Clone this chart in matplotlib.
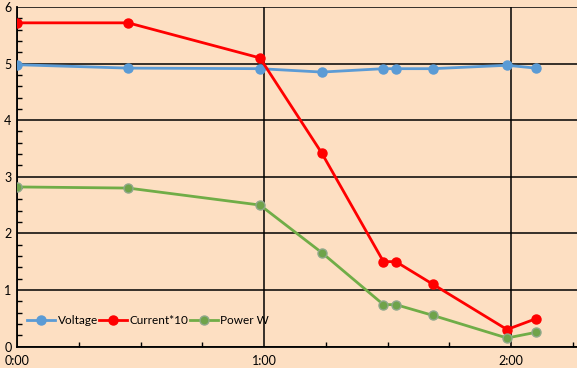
import matplotlib
matplotlib.use("Agg")
import matplotlib.pyplot as plt
from matplotlib.ticker import FixedLocator, FuncFormatter, MultipleLocator

plt.rcParams['font.family'] = ['Lato', 'DejaVu Sans']

# time in minutes
times = [0, 27, 59, 74, 89, 92, 101, 119, 126]
voltage = [4.98, 4.92, 4.91, 4.85, 4.91, 4.91, 4.91, 4.97, 4.92]
current10 = [5.72, 5.72, 5.10, 3.42, 1.50, 1.50, 1.10, 0.30, 0.49]
power = [2.82, 2.80, 2.50, 1.66, 0.74, 0.74, 0.55, 0.15, 0.25]
labels = ["Voltage", "Current*10", "Power W"]

bg = "#FDDFC2"
fig = plt.figure(figsize=(5.77, 3.68), dpi=100, facecolor=bg)
ax = fig.add_axes([17/577, 21.5/368, 560/577, 339.5/368], facecolor=bg)

ax.plot(times, voltage, color="#5B9BD5", lw=2, marker="o", ms=6.5,
        markerfacecolor="#5B9BD5", markeredgecolor="#5B9BD5", label=labels[0], zorder=3)
ax.plot(times, current10, color="#FF0000", lw=2, marker="o", ms=6.5,
        markerfacecolor="#FF0000", markeredgecolor="#FF0000", label=labels[1], zorder=3)
ax.plot(times, power, color="#70AD47", lw=2, marker="o", ms=6.5,
        markerfacecolor="#6FA34A", markeredgecolor="#8FA88A", label=labels[2], zorder=3)

ax.set_xlim(0, 136)
ax.set_ylim(0, 6)
ax.xaxis.set_major_locator(FixedLocator([0, 60, 120]))
ax.xaxis.set_minor_locator(MultipleLocator(15))
ax.xaxis.set_major_formatter(FuncFormatter(lambda v, p: f"{int(v)//60}:{int(v)%60:02d}"))
ax.yaxis.set_major_locator(MultipleLocator(1))
ax.yaxis.set_minor_locator(MultipleLocator(0.2))
ax.grid(True, which="major", color="black", lw=1.1, zorder=1)

for s in ["top", "right"]:
    ax.spines[s].set_visible(False)
for s in ["left", "bottom"]:
    ax.spines[s].set_color("black")
    ax.spines[s].set_linewidth(1.3)

ax.tick_params(which="major", length=0, labelsize=9, colors="black")
ax.tick_params(axis="x", which="major", pad=6)
ax.tick_params(axis="y", which="major", pad=4)
ax.tick_params(which="minor", direction="in", length=3.5, width=1, color="black")

leg = ax.legend(loc="lower left", bbox_to_anchor=(0.005, 0.04), ncol=3, frameon=False,
                fontsize=8.5, handlelength=2.4, handletextpad=0.2, columnspacing=0.1,
                borderaxespad=0.2)

fig.savefig("out.png", dpi=100, facecolor=bg)
